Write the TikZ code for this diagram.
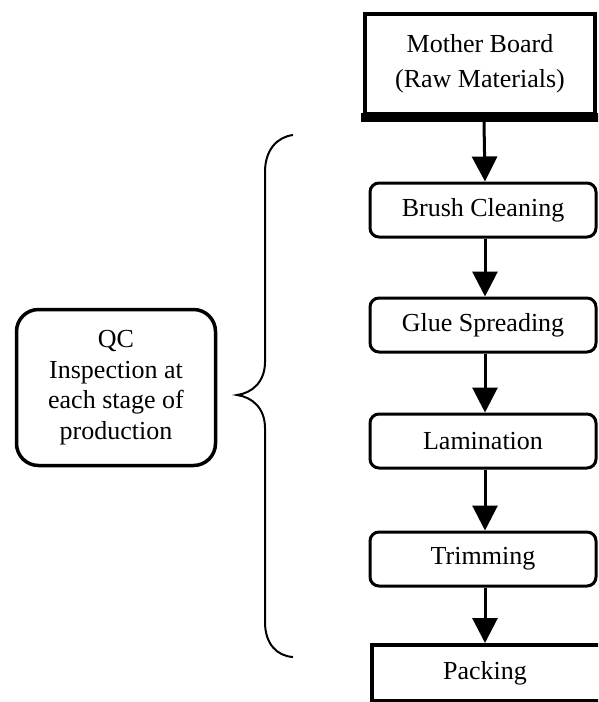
\documentclass[tikz,border=0pt]{standalone}
\usepackage{fontspec}
\setmainfont{Liberation Serif}
\usetikzlibrary{arrows.meta}
\begin{document}
\begin{tikzpicture}[x=1pt,y=1pt,
  proc/.style={draw, line width=3pt, rounded corners=9pt, minimum width=226pt, minimum height=54pt,
    inner sep=0pt, font=\fontsize{26}{35}\selectfont},
  flow/.style={line width=3pt, -{Triangle[width=25pt,length=25pt]}},
  bracestyle/.style={line width=2pt},
]
\useasboundingbox (0,0) rectangle (598,-702);
\clip (0,0) rectangle (598,-702);
\fill[white] (0,0) rectangle (598,-702);

% Mother board box
\node[draw, line width=4pt, minimum width=230pt, minimum height=100pt, inner sep=0pt,
  align=center, font=\fontsize{26}{35}\selectfont] (mb) at (480,-64) {Mother Board\\(Raw Materials)};
\fill[black] ([xshift=-2pt,yshift=3pt]mb.south west) rectangle ([xshift=2pt,yshift=-6pt]mb.south east);

\node[proc] (brush) at (483,-210) {Brush Cleaning};
\node[proc] (glue) at (483,-325) {Glue Spreading};
\node[proc] (lam) at (483,-441) {Lamination};
\node[proc] (trim) at (483,-559) {Trimming};
\node[draw, line width=4pt, minimum width=236pt, minimum height=56pt, inner sep=0pt,
  font=\fontsize{26}{35}\selectfont] (pack) at (490,-673) {\hspace*{-10pt}Packing};

\draw[flow] ([xshift=4pt,yshift=-6pt]mb.south) -- ([xshift=2pt]brush.north);
\draw[flow] ([xshift=2pt]brush.south) -- ([xshift=2pt]glue.north);
\draw[flow] ([xshift=2pt]glue.south) -- ([xshift=2pt]lam.north);
\draw[flow] ([xshift=2pt]lam.south) -- ([xshift=2pt]trim.north);
\draw[flow] ([xshift=2pt]trim.south) -- ([xshift=-5pt]pack.north);

% QC box
\node[draw, line width=3.5pt, rounded corners=22pt, minimum width=199pt, minimum height=156pt,
  inner sep=0pt, align=center, font=\fontsize{26}{30.5}\selectfont] (qc) at (116,-387.5)
  {QC\\Inspection at\\each stage of\\production};

% brace
\coordinate (btop) at (293,-135);
\coordinate (btip) at (237,-395);
\coordinate (bbot) at (293,-657);
\draw[bracestyle] (btop) .. controls (277,-137) and (265,-150) .. (265,-172)
  -- (265,-362) .. controls (265,-382) and (252,-393) .. (btip)
  .. controls (252,-397) and (265,-408) .. (265,-428)
  -- (265,-622) .. controls (265,-644) and (277,-656) .. (bbot);
\end{tikzpicture}
\end{document}
